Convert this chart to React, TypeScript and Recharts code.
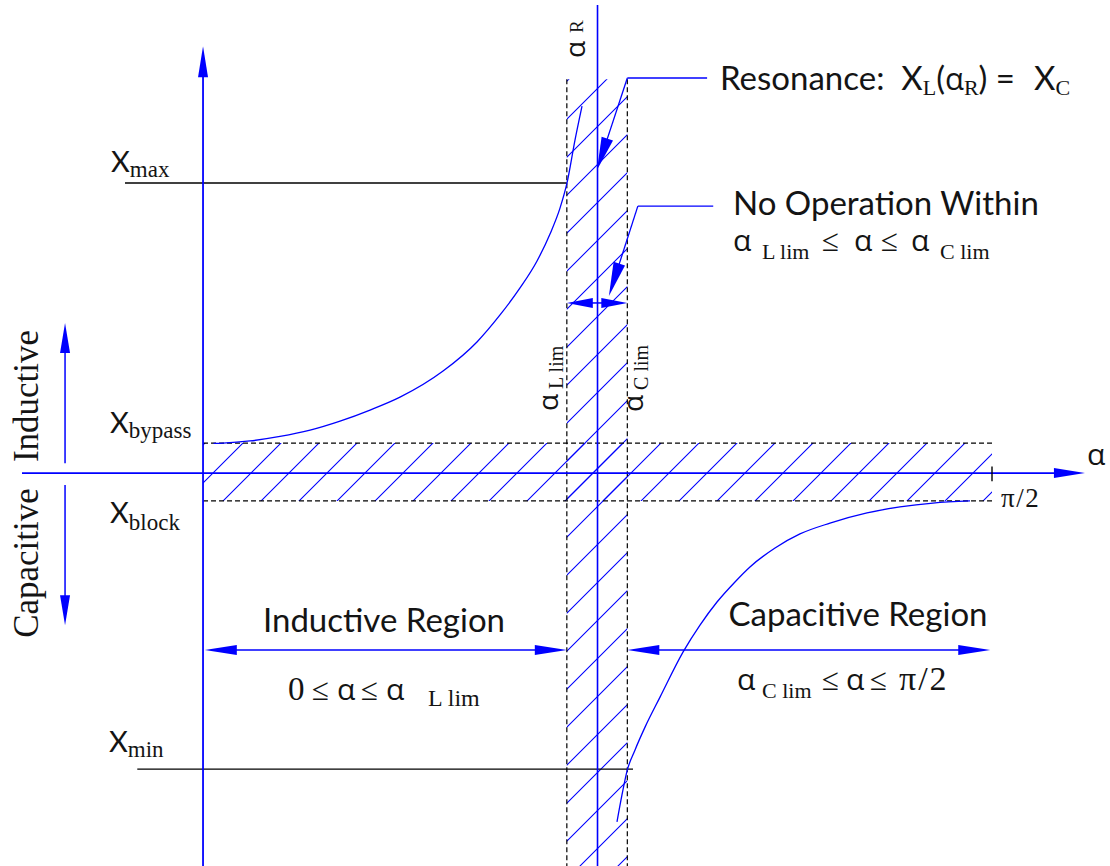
import React from 'react';
import {
  ComposedChart,
  Line,
  XAxis,
  YAxis,
  ReferenceLine,
  ReferenceArea,
  Customized,
} from 'recharts';

// Firing angle α in degrees (0 … 90 = π/2) and reactance X in per-unit steps.
const ALPHA_DOMAIN: [number, number] = [-23.16, 103.46];
const X_DOMAIN: [number, number] = [-13.1, 15.77];

// Characteristic firing angles
const ALPHA_L_LIM = 41.5;
const ALPHA_R = 45;
const ALPHA_C_LIM = 48.4;
const ALPHA_END = 90;

// Characteristic reactances
const X_MAX = 9.67;
const X_BYPASS = 1.0;
const X_BLOCK = -0.93;
const X_MIN = -9.87;

// Inductive branch: X rises from X_bypass towards resonance
const INDUCTIVE_ALPHA = [1.2, 2.28, 5.36, 8.78, 12.21, 15.63, 19.05, 22.47, 27.38, 31.25, 33.88, 36.16, 38.1, 39.58, 40.72, 41.52, 42.43, 43.23];
const INDUCTIVE_X = [0.99, 1.0, 1.07, 1.22, 1.43, 1.73, 2.1, 2.53, 3.4, 4.37, 5.27, 6.17, 7.07, 7.97, 8.83, 9.67, 11.1, 12.23];

// Capacitive branch: X climbs from far below X_min up to X_block
const CAPACITIVE_ALPHA = [47.22, 47.79, 48.37, 49.28, 50.42, 52.13, 54.75, 56.69, 58.63, 60.68, 62.39, 65.25, 68.09, 71.52, 75.74, 79.5, 83.27, 87.49];
const CAPACITIVE_X = [-11.63, -10.73, -9.93, -9.23, -8.47, -7.47, -5.97, -5.07, -4.3, -3.63, -3.13, -2.5, -2.03, -1.67, -1.33, -1.13, -1.0, -0.93];

// Annotation anchors (same units as the axes)
const STRIP_TOP = 13.13;
const AXIS_ALPHA_START = -20.65;
const AXIS_ALPHA_END = 100.6;
const AXIS_X_TOP = 14.23;
const ALPHA_R_TOP = 15.6;
const REGION_ARROW_X = -5.9;
const LOCKOUT_ARROW_X = 5.67;
const SENSE_ALPHA = -15.74;
const SENSE_UP: [number, number] = [0.33, 5.0];
const SENSE_DOWN: [number, number] = [-0.4, -5.07];
const XMAX_LINE_START = -8.9;
const XMIN_LINE: [number, number] = [-7.5, 49.05];
const RESONANCE_LEADER = { end: 57.5, y: 13.17, tipAlpha: 44.94, tipX: 10.1 };
const LOCKOUT_LEADER = { start: 49.6, end: 58.2, y: 8.9, tipAlpha: 46.3, tipX: 5.9 };

const inductiveData = INDUCTIVE_ALPHA.map((a, i) => ({ alpha: a, x: INDUCTIVE_X[i] }));
const capacitiveData = CAPACITIVE_ALPHA.map((a, i) => ({ alpha: a, x: CAPACITIVE_X[i] }));

const BLUE = '#0000ff';
const INK = '#141414';
const SANS = "Lato, 'Open Sans', sans-serif";
const GREEK = "'Open Sans', 'Noto Sans', sans-serif";
const SERIF = "'Liberation Serif', 'Times New Roman', serif";
const NBSP2 = '\u00a0\u00a0';

function headPoints(tx: number, ty: number, fx: number, fy: number, len: number, half: number) {
  const d = Math.hypot(tx - fx, ty - fy) || 1;
  const ux = (tx - fx) / d;
  const uy = (ty - fy) / d;
  const bx = tx - ux * len;
  const by = ty - uy * len;
  return `${tx},${ty} ${bx - uy * half},${by + ux * half} ${bx + uy * half},${by - ux * half}`;
}

type ArrowOpts = { start?: boolean; end?: boolean; len?: number; half?: number; width?: number; color?: string };

const arrowShape = (o: ArrowOpts) => (p: any) => {
  const { x1, y1, x2, y2 } = p;
  const len = o.len ?? 30;
  const half = o.half ?? 5;
  const color = o.color ?? BLUE;
  const width = o.width ?? 1.5;
  const d = Math.hypot(x2 - x1, y2 - y1) || 1;
  const ux = (x2 - x1) / d;
  const uy = (y2 - y1) / d;
  const sx = o.start ? x1 + ux * len * 0.7 : x1;
  const sy = o.start ? y1 + uy * len * 0.7 : y1;
  const ex = o.end ? x2 - ux * len * 0.7 : x2;
  const ey = o.end ? y2 - uy * len * 0.7 : y2;
  return (
    <g>
      <line x1={sx} y1={sy} x2={ex} y2={ey} stroke={color} strokeWidth={width} />
      {o.start && <polygon points={headPoints(x1, y1, x2, y2, len, half)} fill={color} />}
      {o.end && <polygon points={headPoints(x2, y2, x1, y1, len, half)} fill={color} />}
    </g>
  );
};

const sub = { fontFamily: SERIF, fontSize: 22 };
const leq = { fontFamily: SERIF, fontSize: 31 };

function Labels() {
  return (
    <g fill={INK}>
      {/* reactance levels */}
      <text x={111} y={172} fontFamily={SANS} fontSize={29}>
        X<tspan fontFamily={SERIF} fontSize={23} dy={5}>max</tspan>
      </text>
      <text x={110} y={433} fontFamily={SANS} fontSize={29}>
        X<tspan fontFamily={SERIF} fontSize={23} dy={5}>bypass</tspan>
      </text>
      <text x={110} y={523} fontFamily={SANS} fontSize={29}>
        X<tspan fontFamily={SERIF} fontSize={23} dy={7}>block</tspan>
      </text>
      <text x={109} y={752} fontFamily={SANS} fontSize={29}>
        X<tspan fontFamily={SERIF} fontSize={23} dy={5}>min</tspan>
      </text>

      {/* sense of reactance */}
      <text transform="translate(38,396) rotate(-90)" textAnchor="middle" fontFamily={SERIF} fontSize={35}>
        Inductive
      </text>
      <text transform="translate(38,563) rotate(-90)" textAnchor="middle" fontFamily={SERIF} fontSize={35}>
        Capacitive
      </text>

      {/* angle markers */}
      <text transform="translate(585,58) rotate(-90)" fontFamily={GREEK} fontSize={28}>
        α<tspan fontFamily={SERIF} fontSize={19} dx={8} dy={-2}>R</tspan>
      </text>
      <text transform="translate(558,411) rotate(-90)" fontFamily={GREEK} fontSize={28}>
        α<tspan fontFamily={SERIF} fontSize={20} dx={5} dy={5}>L lim</tspan>
      </text>
      <text transform="translate(643,412) rotate(-90)" fontFamily={GREEK} fontSize={28}>
        α<tspan fontFamily={SERIF} fontSize={20} dx={5} dy={5}>C lim</tspan>
      </text>

      {/* axis labels */}
      <text x={1087} y={465} fontFamily={GREEK} fontSize={30}>α</text>
      <text x={1001} y={507} fontFamily={SERIF} fontSize={27} letterSpacing={1.5}>π/2</text>

      {/* resonance note */}
      <text y={90} fontFamily={SANS} fontSize={33}>
        <tspan x={720}>{`Resonance:${NBSP2}X`}</tspan>
        <tspan {...sub} dy={5}>L</tspan>
        <tspan dy={-5}>(</tspan>
        <tspan fontFamily={GREEK} fontSize={31}>α</tspan>
        <tspan {...sub} dy={5}>R</tspan>
        <tspan dy={-5}>{`)\u00a0=`}</tspan>
        <tspan x={1034}>X</tspan>
        <tspan {...sub} dy={5}>C</tspan>
      </text>

      {/* lock-out note */}
      <text x={733} y={215} fontFamily={SANS} fontSize={33}>No Operation Within</text>
      <text y={251} fontFamily={GREEK} fontSize={30}>
        <tspan x={733}>α</tspan>
        <tspan x={762} {...sub} dy={8}>L lim</tspan>
        <tspan x={822} {...leq} dy={-8}>≤</tspan>
        <tspan x={854}>α</tspan>
        <tspan x={881} {...leq}>≤</tspan>
        <tspan x={911}>α</tspan>
        <tspan x={940} {...sub} dy={8}>C lim</tspan>
      </text>

      {/* operating regions */}
      <text x={384} y={632} textAnchor="middle" fontFamily={SANS} fontSize={33}>Inductive Region</text>
      <text y={700} fontFamily={GREEK} fontSize={30}>
        <tspan x={288} fontFamily={SERIF} fontSize={33}>0</tspan>
        <tspan x={312} {...leq}>≤</tspan>
        <tspan x={337}>α</tspan>
        <tspan x={361} {...leq}>≤</tspan>
        <tspan x={386}>α</tspan>
        <tspan x={428} {...sub} fontSize={24} dy={6}>L lim</tspan>
      </text>
      <text x={858} y={626} textAnchor="middle" fontFamily={SANS} fontSize={33}>Capacitive Region</text>
      <text y={690} fontFamily={GREEK} fontSize={30}>
        <tspan x={737}>α</tspan>
        <tspan x={762} {...sub} dy={8}>C lim</tspan>
        <tspan x={822} {...leq} dy={-8}>≤</tspan>
        <tspan x={846}>α</tspan>
        <tspan x={870} {...leq}>≤</tspan>
        <tspan x={899} fontFamily={SERIF} fontSize={34} letterSpacing={2}>π/2</tspan>
      </text>
    </g>
  );
}

export default function App() {
  const dashed = { stroke: '#000', strokeWidth: 1.2, strokeDasharray: '5 3', ifOverflow: 'visible' as const };
  return (
    <div style={{ position: 'absolute', left: 0, top: 0, width: 1110, height: 866, background: '#fff' }}>
      <svg width={0} height={0} style={{ position: 'absolute' }}>
        <defs>
          <pattern id="hatch" patternUnits="userSpaceOnUse" width={38} height={38}>
            <path d="M-3,5 L5,-3 M-3,43 L43,-3" stroke={BLUE} strokeWidth={1.1} fill="none" />
          </pattern>
        </defs>
      </svg>
      <ComposedChart width={1110} height={866} margin={{ top: 0, right: 0, bottom: 0, left: 0 }}>
        <XAxis type="number" dataKey="alpha" domain={ALPHA_DOMAIN} allowDataOverflow hide />
        <YAxis type="number" domain={X_DOMAIN} allowDataOverflow hide />

        {/* hatched no-operation zones */}
        <ReferenceArea x1={0} x2={ALPHA_END} y1={X_BLOCK} y2={X_BYPASS} fill="url(#hatch)" fillOpacity={1} stroke="none" ifOverflow="visible" />
        <ReferenceArea x1={ALPHA_L_LIM} x2={ALPHA_C_LIM} y1={X_DOMAIN[0]} y2={STRIP_TOP} fill="url(#hatch)" fillOpacity={1} stroke="none" ifOverflow="visible" />

        {/* limit lines */}
        <ReferenceLine segment={[{ x: 0, y: X_BYPASS }, { x: ALPHA_END, y: X_BYPASS }]} {...dashed} />
        <ReferenceLine segment={[{ x: 0, y: X_BLOCK }, { x: ALPHA_END, y: X_BLOCK }]} {...dashed} />
        <ReferenceLine segment={[{ x: ALPHA_L_LIM, y: STRIP_TOP }, { x: ALPHA_L_LIM, y: X_DOMAIN[0] }]} {...dashed} />
        <ReferenceLine segment={[{ x: ALPHA_C_LIM, y: STRIP_TOP }, { x: ALPHA_C_LIM, y: X_DOMAIN[0] }]} {...dashed} />
        <ReferenceLine segment={[{ x: XMAX_LINE_START, y: X_MAX }, { x: ALPHA_L_LIM, y: X_MAX }]} stroke="#000" strokeWidth={1.3} ifOverflow="visible" />
        <ReferenceLine segment={[{ x: XMIN_LINE[0], y: X_MIN }, { x: XMIN_LINE[1], y: X_MIN }]} stroke="#000" strokeWidth={1.3} ifOverflow="visible" />

        {/* axes */}
        <ReferenceLine segment={[{ x: AXIS_ALPHA_START, y: 0 }, { x: AXIS_ALPHA_END, y: 0 }]} ifOverflow="visible" shape={arrowShape({ end: true, len: 31, half: 5, width: 1.8 })} />
        <ReferenceLine segment={[{ x: 0, y: X_DOMAIN[0] }, { x: 0, y: AXIS_X_TOP }]} ifOverflow="visible" shape={arrowShape({ end: true, len: 31, half: 5, width: 1.8 })} />
        <ReferenceLine segment={[{ x: ALPHA_END, y: 0.22 }, { x: ALPHA_END, y: -0.27 }]} stroke="#000" strokeWidth={1.4} ifOverflow="visible" />
        <ReferenceLine segment={[{ x: ALPHA_R, y: ALPHA_R_TOP }, { x: ALPHA_R, y: X_DOMAIN[0] }]} stroke={BLUE} strokeWidth={1.6} ifOverflow="visible" />

        {/* reactance sense arrows */}
        <ReferenceLine segment={[{ x: SENSE_ALPHA, y: SENSE_UP[0] }, { x: SENSE_ALPHA, y: SENSE_UP[1] }]} ifOverflow="visible" shape={arrowShape({ end: true, len: 30, half: 5 })} />
        <ReferenceLine segment={[{ x: SENSE_ALPHA, y: SENSE_DOWN[0] }, { x: SENSE_ALPHA, y: SENSE_DOWN[1] }]} ifOverflow="visible" shape={arrowShape({ end: true, len: 30, half: 5 })} />

        {/* region spans */}
        <ReferenceLine segment={[{ x: 0.2, y: REGION_ARROW_X }, { x: ALPHA_L_LIM, y: REGION_ARROW_X }]} ifOverflow="visible" shape={arrowShape({ start: true, end: true, len: 32, half: 5 })} />
        <ReferenceLine segment={[{ x: ALPHA_C_LIM, y: REGION_ARROW_X }, { x: 89.8, y: REGION_ARROW_X }]} ifOverflow="visible" shape={arrowShape({ start: true, end: true, len: 32, half: 5 })} />
        <ReferenceLine segment={[{ x: ALPHA_R, y: LOCKOUT_ARROW_X }, { x: ALPHA_L_LIM, y: LOCKOUT_ARROW_X }]} ifOverflow="visible" shape={arrowShape({ end: true, len: 26, half: 5 })} />
        <ReferenceLine segment={[{ x: ALPHA_R, y: LOCKOUT_ARROW_X }, { x: ALPHA_C_LIM, y: LOCKOUT_ARROW_X }]} ifOverflow="visible" shape={arrowShape({ end: true, len: 26, half: 5 })} />

        {/* note leaders */}
        <ReferenceLine segment={[{ x: ALPHA_C_LIM, y: RESONANCE_LEADER.y }, { x: RESONANCE_LEADER.end, y: RESONANCE_LEADER.y }]} stroke={BLUE} strokeWidth={1.3} ifOverflow="visible" />
        <ReferenceLine segment={[{ x: ALPHA_C_LIM, y: RESONANCE_LEADER.y }, { x: RESONANCE_LEADER.tipAlpha, y: RESONANCE_LEADER.tipX }]} ifOverflow="visible" shape={arrowShape({ end: true, len: 33, half: 6, width: 1.3 })} />
        <ReferenceLine segment={[{ x: LOCKOUT_LEADER.start, y: LOCKOUT_LEADER.y }, { x: LOCKOUT_LEADER.end, y: LOCKOUT_LEADER.y }]} stroke={BLUE} strokeWidth={1.3} ifOverflow="visible" />
        <ReferenceLine segment={[{ x: LOCKOUT_LEADER.start, y: LOCKOUT_LEADER.y }, { x: LOCKOUT_LEADER.tipAlpha, y: LOCKOUT_LEADER.tipX }]} ifOverflow="visible" shape={arrowShape({ end: true, len: 34, half: 6, width: 1.3 })} />

        {/* reactance characteristics */}
        <Line data={inductiveData} dataKey="x" type="monotone" stroke={BLUE} strokeWidth={1.3} dot={false} activeDot={false} isAnimationActive={false} />
        <Line data={capacitiveData} dataKey="x" type="monotone" stroke={BLUE} strokeWidth={1.3} dot={false} activeDot={false} isAnimationActive={false} />

        <Customized component={<Labels />} />
      </ComposedChart>
    </div>
  );
}
